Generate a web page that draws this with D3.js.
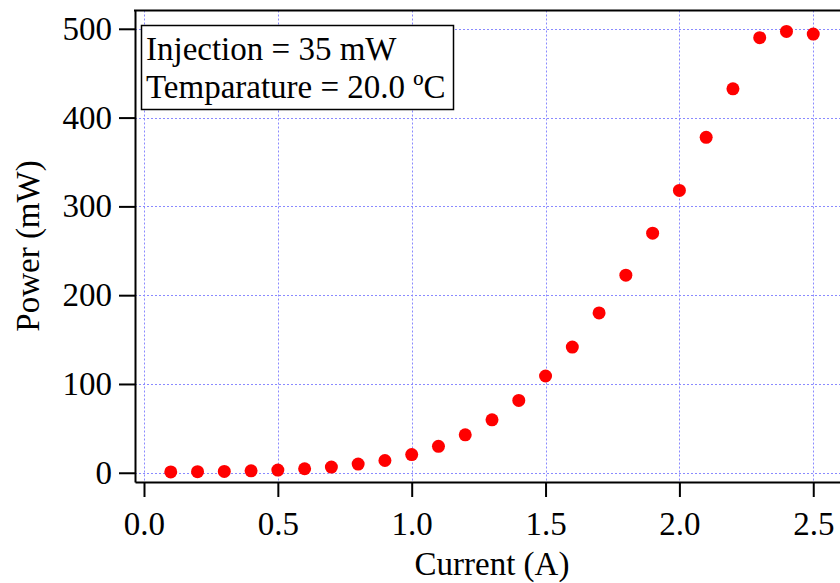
<!DOCTYPE html>
<html>
<head>
<meta charset="utf-8">
<script src="https://cdn.jsdelivr.net/npm/d3@7"></script>
<style>
  html, body { margin: 0; padding: 0; background: #fff; }
  svg { display: block; font-family: "Liberation Serif", "Times New Roman", serif; }
</style>
</head>
<body>
<svg id="chart" width="840" height="583"></svg>
<script>
// Laser output power versus drive current
const current = [0.1, 0.2, 0.3, 0.4, 0.5, 0.6, 0.7, 0.8, 0.9, 1.0,
                 1.1, 1.2, 1.3, 1.4, 1.5, 1.6, 1.7, 1.8, 1.9, 2.0,
                 2.1, 2.2, 2.3, 2.4, 2.5];
const power = [1.0, 1.2, 1.5, 2.2, 3.0, 4.5, 6.4, 9.8, 13.8, 20.5,
               29.8, 42.7, 59.6, 81.5, 109, 141.6, 180, 222.5, 269.8, 318,
               377.8, 432.4, 490, 497, 494];
const xTicks = [0.0, 0.5, 1.0, 1.5, 2.0, 2.5];
const yTicks = [0, 100, 200, 300, 400, 500];
const legendLines = ["Injection = 35 mW", "Temparature = 20.0 ºC"];

const svg = d3.select("#chart");
const plotLeft = 135, plotRight = 845, plotTop = 10.5, plotBottom = 482;
const fontSize = "33px";

const x = d3.scaleLinear().domain([-0.0336, 2.6186]).range([plotLeft, plotRight]);
const y = d3.scaleLinear().domain([-10.4, 520.6]).range([plotBottom, plotTop]);

const gridColor = "#8a8aff";

// dotted grid
const grid = svg.append("g");
grid.selectAll("line.v").data(xTicks).join("line")
  .attr("x1", d => Math.round(x(d)) + 0.5).attr("x2", d => Math.round(x(d)) + 0.5)
  .attr("y1", plotTop).attr("y2", plotBottom)
  .attr("stroke", gridColor).attr("stroke-width", 1).attr("stroke-dasharray", "2,2");
grid.selectAll("line.h").data(yTicks).join("line")
  .attr("y1", d => Math.round(y(d)) + 0.5).attr("y2", d => Math.round(y(d)) + 0.5)
  .attr("x1", plotLeft).attr("x2", plotRight)
  .attr("stroke", gridColor).attr("stroke-width", 1).attr("stroke-dasharray", "2,2");

// axes
const xAxis = svg.append("g")
  .attr("transform", `translate(0,${plotBottom})`)
  .call(d3.axisBottom(x).tickValues(xTicks).tickFormat(d3.format(".1f"))
    .tickSize(15).tickSizeOuter(0));
xAxis.selectAll("text").attr("y", 53).attr("dy", 0);

const yAxis = svg.append("g")
  .attr("transform", `translate(${plotLeft},0)`)
  .call(d3.axisLeft(y).tickValues(yTicks).tickFormat(d3.format("d"))
    .tickSize(16).tickPadding(7).tickSizeOuter(0));

[xAxis, yAxis].forEach(a => {
  a.select(".domain").attr("stroke", "#000").attr("stroke-width", 2);
  a.selectAll(".tick line").attr("stroke", "#000").attr("stroke-width", 2);
  a.selectAll("text").attr("fill", "#000")
    .style("font-family", "'Liberation Serif', serif").style("font-size", fontSize);
});

// top frame line
svg.append("line")
  .attr("x1", plotLeft - 1).attr("x2", plotRight).attr("y1", plotTop).attr("y2", plotTop)
  .attr("stroke", "#000").attr("stroke-width", 2);

// data points
svg.append("g").selectAll("circle").data(current).join("circle")
  .attr("cx", d => x(d))
  .attr("cy", (d, i) => y(power[i]))
  .attr("r", 6.5)
  .attr("fill", "#ff0000");

// axis titles
svg.append("text")
  .attr("x", 492).attr("y", 575)
  .attr("text-anchor", "middle")
  .style("font-size", fontSize)
  .text("Current (A)");
svg.append("text")
  .attr("transform", "rotate(-90)")
  .attr("x", -246).attr("y", 39)
  .attr("text-anchor", "middle")
  .style("font-size", fontSize)
  .text("Power (mW)");

// annotation box
const legend = svg.append("g");
legend.append("rect")
  .attr("x", 141.5).attr("y", 25.5).attr("width", 312).attr("height", 84)
  .attr("fill", "#fff").attr("stroke", "#000").attr("stroke-width", 1.5);
legend.selectAll("text").data(legendLines).join("text")
  .attr("x", 146).attr("y", (d, i) => 60 + i * 38)
  .style("font-size", fontSize)
  .text(d => d);
</script>
</body>
</html>
